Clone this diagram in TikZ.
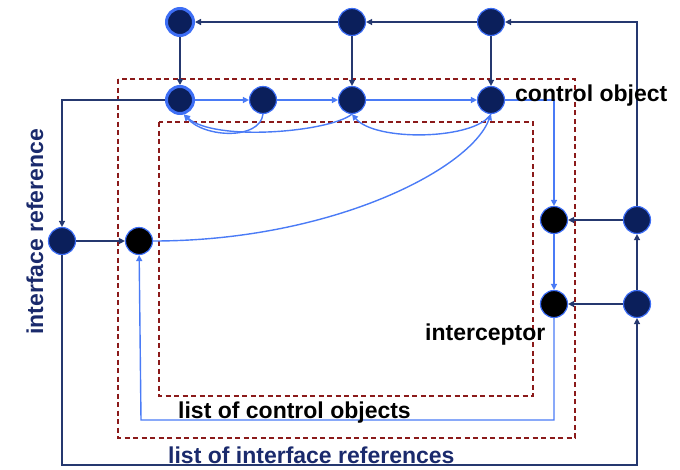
\documentclass[tikz,border=0pt]{standalone}
\usepackage{fontspec}
\setmainfont{Liberation Sans}
\usetikzlibrary{arrows.meta}
\definecolor{navy}{HTML}{0B1F5B}
\definecolor{navyline}{HTML}{25386F}
\definecolor{ringblue}{HTML}{3D6EF5}
\definecolor{lineblue}{HTML}{4A7BF6}
\definecolor{boxred}{HTML}{8B1A1A}
\definecolor{labelnavy}{HTML}{1A2A6C}
\begin{document}
\begin{tikzpicture}[x=1pt,y=-1pt,
  cnode/.style={circle,fill=navy,draw=ringblue,line width=1.2pt,minimum size=27pt,inner sep=0pt},
  rnode/.style={circle,fill=navy,draw=ringblue,line width=3pt,minimum size=27pt,inner sep=0pt},
  bnode/.style={circle,fill=black,draw=ringblue,line width=1.2pt,minimum size=27pt,inner sep=0pt},
  nv/.style={draw=navyline,line width=1.4pt,-{Triangle[length=6pt,width=6pt]}},
  bl/.style={draw=lineblue,line width=1.4pt,-{Triangle[length=6pt,width=6pt]}},
  region/.style={draw=boxred,line width=1.2pt,dash pattern=on 5pt off 3.5pt},
  lab/.style={font=\fontsize{23}{26}\selectfont\bfseries,inner sep=0pt}]
\useasboundingbox (0,0) rectangle (680,469);

% nested regions
\draw[region] (118,79) rectangle (575,438);
\draw[region] (159,122) rectangle (533,396);

% nodes
\node[rnode] (t1) at (180,22) {};
\node[cnode] (t2) at (352,22) {};
\node[cnode] (t3) at (491,22) {};
\node[rnode] (r1) at (180,100) {};
\node[cnode] (r2) at (263,100) {};
\node[cnode] (r3) at (352,100) {};
\node[cnode] (r4) at (491,100) {};
\node[cnode] (ir) at (62,241) {};
\node[bnode] (b) at (139,241) {};
\node[bnode] (i1) at (554,220) {};
\node[bnode] (i2) at (554,304) {};
\node[cnode] (q1) at (637,220) {};
\node[cnode] (q2) at (637,304) {};

\coordinate (tr) at (637,22);
\coordinate (rl) at (62,100);
\coordinate (rr) at (554,100);
\coordinate (bl1) at (554,420);
\coordinate (bl2) at (141,420);
\coordinate (nb1) at (62,465);
\coordinate (nb2) at (637,465);

% navy connectors
\draw[nv] (t3) -- (t2);
\draw[nv] (t2) -- (t1);
\draw[nv] (t1) -- (r1);
\draw[nv] (t2) -- (r3);
\draw[nv] (t3) -- (r4);
\draw[nv] (q1) -- (tr) -- (t3);
\draw[nv] (r1) -- (rl) -- (ir);
\draw[nv] (ir) -- (b);
\draw[nv] (ir) -- (nb1) -- (nb2) -- (q2);
\draw[nv] (q2) -- (q1);
\draw[nv] (q1) -- (i1);
\draw[nv] (q2) -- (i2);

% blue connectors
\draw[bl] (r1) -- (r2);
\draw[bl] (r2) -- (r3);
\draw[bl] (r3) -- (r4);
\draw[bl] (r4) -- (rr) -- (i1);
\draw[bl] (i1) -- (i2);
\draw[bl] (i2) -- (bl1) -- (bl2) -- (b);
\draw[bl] (r2.south) .. controls (260,140) and (205,138) .. (r1.-75);
\draw[bl] (r3.south) .. controls (330,132) and (215,142) .. (r1.-75);
\draw[bl] (r4.south) .. controls (475,140) and (375,142) .. (r3.-90);
\draw[bl] (b.east) .. controls (330,241) and (470,170) .. (r4.south);

% labels
\node[lab,anchor=base west] (lco) at (515,101) {control object};
\node[lab,anchor=base west] (lic) at (425,340) {interceptor};
\node[lab,anchor=base west] (llc) at (178,418) {list of control objects};
\node[lab,anchor=base west,text=labelnavy] (lir) at (168,463) {list of interface references};
\node[lab,anchor=base west,text=labelnavy,rotate=90] (lif) at (43,335) {interface reference};
\end{tikzpicture}
\end{document}
